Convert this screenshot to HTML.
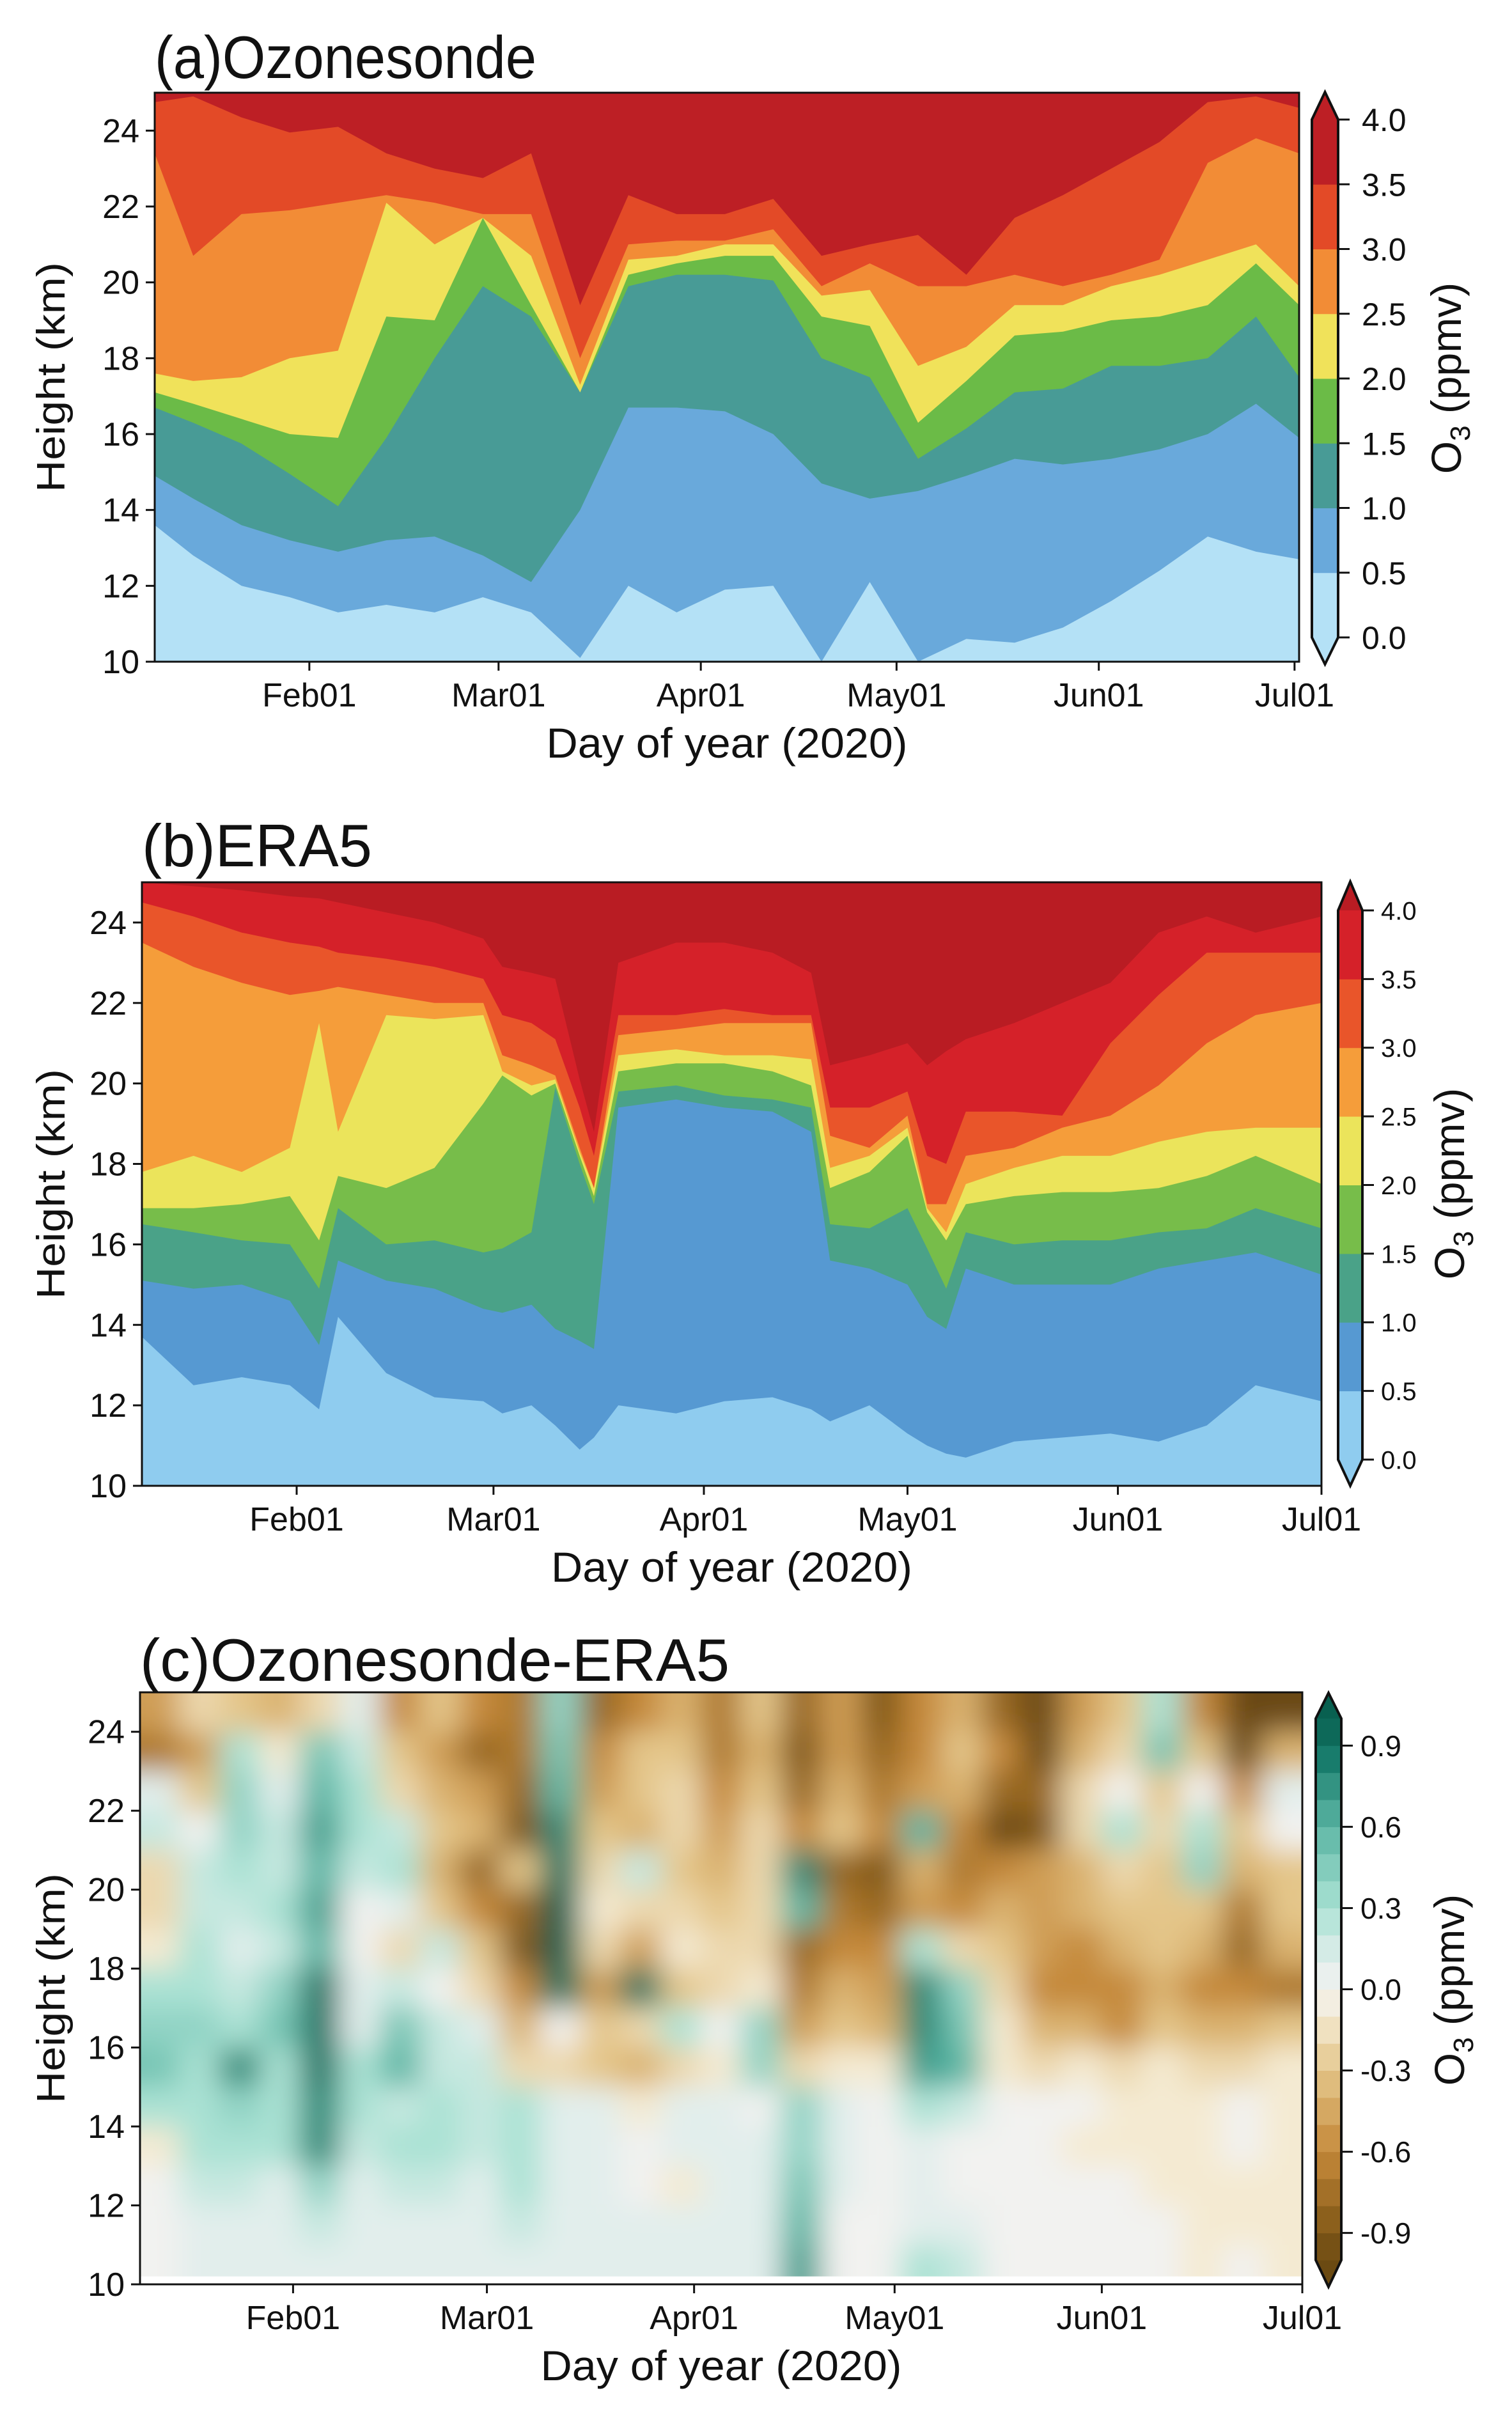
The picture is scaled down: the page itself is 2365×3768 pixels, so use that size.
<!DOCTYPE html>
<html><head><meta charset="utf-8"><style>
html,body{margin:0;padding:0;background:#fff;}
svg{display:block;font-family:"Liberation Sans",Arial,sans-serif;}
</style></head><body>
<svg id="fig" width="2365" height="3768" viewBox="0 0 2365 3768" xmlns="http://www.w3.org/2000/svg">
<defs>
<filter id="blurC" x="-5%" y="-5%" width="110%" height="110%"><feGaussianBlur stdDeviation="24 22"/></filter>
</defs>
</svg>
<script>
// ---------- data ----------
const monthTickDays=[32,61,92,122,153,183];
const monthTickLabels=["Feb01","Mar01","Apr01","May01","Jun01","Jul01"];
const heightTicks=[10,12,14,16,18,20,22,24];
// panel a (ozonesonde) contour boundary heights (km) per day
const aDays=[8.3,14.2,21.6,29,36.4,43.8,51.2,58.6,66,73.5,80.9,88.3,95.7,103.1,110.5,117.9,125.3,132.7,140.1,147.5,154.9,162.3,169.7,177.1,183.7];
const aL05=[13.6,12.8,12.0,11.7,11.3,11.5,11.3,11.7,11.3,10.1,12.0,11.3,11.9,12.0,10.0,12.1,10.0,10.6,10.5,10.9,11.6,12.4,13.3,12.9,12.7];
const aL10=[14.9,14.3,13.6,13.2,12.9,13.2,13.3,12.8,12.1,14.0,16.7,16.7,16.6,16.0,14.7,14.3,14.5,14.9,15.35,15.2,15.35,15.6,16.0,16.8,15.9];
const aL15=[16.7,16.3,15.75,14.95,14.1,15.9,18.0,19.9,19.1,17.1,19.9,20.2,20.2,20.05,18.0,17.5,15.35,16.15,17.1,17.2,17.8,17.8,18.0,19.1,17.5];
const aL20=[17.1,16.8,16.4,16.0,15.9,19.1,19.0,21.7,19.4,17.1,20.2,20.5,20.7,20.7,19.1,18.85,16.3,17.4,18.6,18.7,19.0,19.1,19.4,20.5,19.4];
const aL25=[17.6,17.4,17.5,18.0,18.2,22.1,21.0,21.7,20.7,17.3,20.6,20.7,21.0,21.0,19.65,19.8,17.8,18.3,19.4,19.4,19.9,20.2,20.6,21.0,19.9];
const aL30=[23.4,20.7,21.8,21.9,22.1,22.3,22.1,21.8,21.8,18.0,21.0,21.1,21.1,21.4,19.9,20.5,19.9,19.9,20.2,19.9,20.2,20.6,23.15,23.8,23.4];
const aL35=[24.75,24.9,24.35,23.95,24.1,23.4,23.0,22.75,23.4,19.4,22.3,21.8,21.8,22.2,20.7,21.0,21.25,20.2,21.7,22.3,23.0,23.7,24.75,24.9,24.6];
// panel b (ERA5)
const bDays=[9.2,16.8,23.9,31,35.3,38.1,45.2,52.3,59.5,62.3,66.6,70.1,73.7,75.8,79.4,87.9,95,102.1,107.8,110.6,116.4,122,124.9,127.7,130.6,137.7,144.8,151.9,159,166.1,173.3,183];
const bL05=[13.7,12.5,12.7,12.5,11.9,14.2,12.8,12.2,12.1,11.8,12.0,11.5,10.9,11.2,12.0,11.8,12.1,12.2,11.9,11.6,12.0,11.3,11.0,10.8,10.7,11.1,11.2,11.3,11.1,11.5,12.5,12.1];
const bL10=[15.1,14.9,15.0,14.6,13.5,15.6,15.1,14.9,14.4,14.3,14.5,13.9,13.6,13.4,19.4,19.6,19.4,19.3,18.8,15.6,15.4,15.0,14.2,13.9,15.4,15.0,15.0,15.0,15.4,15.6,15.8,15.25];
const bL15=[16.5,16.3,16.1,16.0,14.9,16.9,16.0,16.1,15.8,15.9,16.3,19.9,18.0,17.0,19.8,19.95,19.7,19.6,19.4,16.5,16.4,16.9,15.9,14.9,16.3,16.0,16.1,16.1,16.3,16.4,16.9,16.4];
const bL20=[16.9,16.9,17.0,17.2,16.1,17.7,17.4,17.9,19.5,20.2,19.7,20.0,18.2,17.2,20.3,20.5,20.5,20.3,19.95,17.4,17.8,18.7,16.8,16.1,17.0,17.2,17.3,17.3,17.4,17.7,18.2,17.5];
const bL25=[17.8,18.2,17.8,18.4,21.5,18.8,21.7,21.6,21.7,20.3,19.95,20.1,18.3,17.4,20.7,20.85,20.7,20.7,20.6,17.9,18.2,18.9,16.9,16.3,17.5,17.9,18.2,18.2,18.55,18.8,18.9,18.9];
const bL30=[23.5,22.9,22.5,22.2,22.3,22.4,22.2,22.0,22.0,20.7,20.45,20.2,18.4,17.4,21.2,21.35,21.5,21.5,21.5,18.7,18.4,19.2,17.0,17.0,18.2,18.4,18.9,19.2,19.95,21.0,21.7,22.0];
const bL35=[24.5,24.15,23.75,23.5,23.4,23.25,23.1,22.9,22.6,21.7,21.5,21.1,19.4,18.2,21.7,21.7,21.85,21.7,21.7,19.4,19.4,19.8,18.2,18.0,19.3,19.3,19.2,21.0,22.2,23.25,23.25,23.25];
const bL40=[25,24.9,24.8,24.65,24.6,24.5,24.25,24.0,23.6,22.9,22.75,22.6,20.1,18.8,23.0,23.5,23.5,23.25,22.75,20.45,20.7,21.0,20.45,20.8,21.1,21.5,22.0,22.5,23.75,24.15,23.75,24.15];
// panel c (difference) grid
const cDays=[12,18,24,30,36,42,48,54,60,66,72,78,84,90,96,102,108,114,120,126,132,138,144,150,156,162,168,174,180];
const cHeights=[24.5,23.5,22.5,21.5,20.5,19.5,18.5,17.5,16.5,15.5,14.5,13.5,12.5,11.5,10.5];
const cRow245=[-0.5,-0.2,-0.3,-0.4,-0.2,0.1,-0.6,-0.3,-0.6,-0.7,0.4,-0.8,-0.6,-0.4,-0.7,-0.3,-0.8,-0.5,-0.9,-0.6,-0.4,-0.8,-1.0,-0.5,-0.3,0.3,-0.6,-1.0,-1.0];
const cRow235=[-0.7,-0.5,0.3,-0.1,0.5,0.2,-0.3,-0.5,-0.8,-0.7,0.5,-0.6,-0.3,-0.3,-0.7,-0.4,-0.9,-0.5,-0.8,-0.6,-0.3,-0.6,-1.0,-0.4,-0.2,0.5,-0.3,-1.0,-0.4];
const cRow225=[0.1,-0.3,0.4,0.1,0.6,0.3,-0.2,-0.4,-0.5,-0.8,0.6,-0.5,-0.3,-0.2,-0.6,-0.3,-0.8,-0.4,-0.7,-0.5,-0.4,-0.8,-0.8,-0.2,0.0,-0.3,0.0,-0.6,0.1];
const cRow215=[0.2,0.0,0.4,0.2,0.7,0.3,0.2,-0.3,-0.4,-0.9,0.8,-0.3,-0.4,-0.2,-0.5,-0.2,-0.6,-0.3,-0.6,0.6,-0.6,-1.0,-0.9,-0.2,0.3,-0.2,0.3,-0.3,0.0];
const cRow205=[-0.2,0.2,0.3,0.2,0.6,0.2,0.3,-0.4,-0.8,-0.3,0.9,-0.2,0.2,-0.3,-0.4,-0.2,0.8,-0.8,-0.9,-0.4,-0.7,-0.6,-0.5,-0.4,-0.2,-0.3,0.4,-0.4,-0.3];
const cRow195=[-0.2,0.2,0.2,0.3,0.7,0.0,0.1,-0.3,-0.6,-0.8,1.0,-0.1,-0.2,-0.2,-0.3,-0.2,0.6,-0.7,-0.8,-0.5,-0.6,-0.4,-0.5,-0.4,-0.3,-0.3,-0.3,-0.7,-0.3];
const cRow185=[-0.1,0.3,0.1,0.2,0.6,0.0,-0.2,0.2,-0.3,-0.9,1.0,-0.2,-0.5,-0.1,-0.2,-0.2,-0.8,-0.6,-0.6,0.3,-0.2,-0.3,-0.5,-0.6,-0.4,-0.3,-0.4,-0.8,-0.4];
const cRow175=[0.3,0.3,0.2,0.4,0.9,0.1,0.2,0.0,-0.2,-0.6,0.9,-0.5,0.9,-0.3,-0.2,-0.1,-0.7,-0.4,-0.5,0.8,0.4,-0.2,-0.6,-0.6,-0.6,-0.4,-0.6,-0.6,-0.7];
const cRow165=[0.4,0.4,0.3,0.5,0.9,0.1,0.5,0.2,0.1,-0.4,0.0,-0.3,-0.2,0.3,0.0,0.4,-0.5,-0.3,-0.4,0.8,0.5,-0.1,-0.4,-0.4,-0.6,-0.3,-0.4,-0.4,-0.3];
const cRow155=[0.5,0.3,0.8,0.3,0.9,0.3,0.6,0.2,0.2,-0.2,-0.2,-0.3,-0.4,-0.2,-0.1,0.4,-0.2,-0.1,-0.1,0.7,0.6,-0.1,-0.2,-0.1,-0.2,-0.1,-0.2,-0.2,-0.1];
const cRow145=[0.3,0.3,0.4,0.3,0.8,0.3,0.2,0.3,0.2,0.3,0.1,0.1,-0.1,0.1,0.1,0.0,0.4,0.1,0.0,0.3,0.2,0.0,0.0,0.0,-0.1,-0.1,-0.1,0.0,-0.1];
const cRow135=[-0.1,0.3,0.3,0.3,0.8,0.2,0.3,0.3,0.2,0.3,0.1,0.1,0.0,0.1,0.1,0.1,0.4,0.1,0.0,0.1,0.0,0.0,0.0,-0.1,-0.1,-0.1,-0.1,0.0,-0.1];
const cRow125=[0.0,0.2,0.2,0.1,0.4,0.1,0.2,0.2,0.1,0.3,0.1,0.1,0.0,-0.1,0.1,0.1,0.5,0.1,0.0,0.1,0.0,0.0,0.0,0.0,0.0,-0.1,-0.1,-0.1,-0.1];
const cRow115=[0.0,0.1,0.1,0.1,0.2,0.1,0.1,0.1,0.1,0.2,0.1,0.1,0.1,0.1,0.1,0.1,0.6,0.0,0.0,0.1,0.1,0.0,0.0,0.0,0.0,0.0,-0.1,-0.1,-0.1];
const cRow105=[0.0,0.1,0.1,0.1,0.1,0.1,0.1,0.1,0.1,0.1,0.1,0.1,0.1,0.1,0.1,0.1,0.7,0.0,0.0,0.3,0.2,0.0,0.0,0.0,0.0,0.0,-0.1,0.0,-0.1];
const cRows=[cRow245,cRow235,cRow225,cRow215,cRow205,cRow195,cRow185,cRow175,cRow165,cRow155,cRow145,cRow135,cRow125,cRow115,cRow105];
const abTickLabels=["0.0","0.5","1.0","1.5","2.0","2.5","3.0","3.5","4.0"];
const cTickValues=[0.9,0.6,0.3,0.0,-0.3,-0.6,-0.9];
const cTickLabels=["0.9","0.6","0.3","0.0","-0.3","-0.6","-0.9"];

// ---------- rendering ----------
const NS="http://www.w3.org/2000/svg";
const svg=document.getElementById('fig');
function mk(tag,attrs,parent){const e=document.createElementNS(NS,tag);for(const k in attrs)e.setAttribute(k,attrs[k]);(parent||svg).appendChild(e);return e;}
function lin(d0,d1,r0,r1){return v=>r0+(v-d0)*(r1-r0)/(d1-d0);}

const aColors=["#b4e1f6","#69a9db","#489b96","#6bbb47","#f0e25a","#f28c36","#e34a27","#bd1f25"];
const bColors=["#8fccef","#5699d2","#4aa288","#77bd4a","#ebe45b","#f59d3a","#e9552a","#d52129","#b91c23"];

function brbg(v){
  const st=[[-1,[107,74,18]],[-0.85,[140,96,28]],[-0.6,[197,137,58]],[-0.3,[228,198,138]],[-0.1,[244,234,210]],[0,[242,242,240]],[0.1,[226,238,236]],[0.3,[170,226,212]],[0.6,[92,182,164]],[0.85,[24,124,108]],[1,[8,96,80]]];
  v=Math.max(-1,Math.min(1,v));
  for(let i=0;i<st.length-1;i++){const a=st[i],b=st[i+1];if(v<=b[0]){const t=(v-a[0])/(b[0]-a[0]);const c=a[1].map((x,j)=>Math.round(x+(b[1][j]-x)*t));return `rgb(${c[0]},${c[1]},${c[2]})`;}}
  return 'rgb(8,96,80)';
}

function axes(p, id){
  const X=lin(p.d0,p.d1,p.x0,p.x1), Y=lin(10,25,p.y1,p.y0);
  const fr=mk('rect',{x:p.x0,y:p.y0,width:p.x1-p.x0,height:p.y1-p.y0,fill:'none',stroke:'#111','stroke-width':3});
  
  
  heightTicks.forEach(h=>{
    const y=Y(h);
    const t=mk('line',{x1:p.x0-14,x2:p.x0,y1:y,y2:y,stroke:'#111','stroke-width':3});
    
    
    const l=mk('text',{x:p.x0-24,y:y+18,'font-size':52,'text-anchor':'end',fill:'#111'});
    l.textContent=h;
    
    
  });
  monthTickDays.forEach((d,i)=>{
    const x=X(d);
    const t=mk('line',{x1:x,x2:x,y1:p.y1,y2:p.y1+14,stroke:'#111','stroke-width':3});
    
    
    const l=mk('text',{x:x,y:p.y1+70,'font-size':52,'text-anchor':'middle',fill:'#111'});
    l.textContent=monthTickLabels[i];
    
    
  });
  const xt=mk('text',{x:(p.x0+p.x1)/2,y:p.y1+150,'font-size':66,'text-anchor':'middle',fill:'#111',textLength:565,lengthAdjust:'spacingAndGlyphs'});
  xt.textContent='Day of year (2020)';
  
  
  const cy=(p.y0+p.y1)/2;
  const yt=mk('text',{x:0,y:0,'font-size':62,'text-anchor':'middle',fill:'#111',textLength:360,lengthAdjust:'spacingAndGlyphs',transform:`translate(101,${cy}) rotate(-90)`});
  yt.textContent='Height (km)';
  
  
  const tt=mk('text',{x:p.x0,y:p.titleY,'font-size':94,fill:'#111',textLength:p.titleW,lengthAdjust:'spacingAndGlyphs'});
  tt.textContent=p.title;
  
  
  return {X,Y};
}

function contourPanel(p,id,days,levels,colors){
  const X=lin(p.d0,p.d1,p.x0,p.x1), Y=lin(10,25,p.y1,p.y0);
  const cp=mk('clipPath',{id:'clip-'+id},svg.querySelector('defs'));
  mk('rect',{x:p.x0,y:p.y0,width:p.x1-p.x0,height:p.y1-p.y0},cp);
  const g=mk('g',{'clip-path':`url(#clip-${id})`});
  
  
  const bg=mk('rect',{x:p.x0,y:p.y0,width:p.x1-p.x0,height:p.y1-p.y0,fill:colors[0]},g);
  
  
  levels.forEach((lv,k)=>{
    let pts=days.map((d,i)=>`${X(d).toFixed(1)},${Y(lv[i]).toFixed(1)}`);
    pts.unshift(`${(p.x0-20)},${Y(lv[0]).toFixed(1)}`);
    pts.push(`${(p.x1+20)},${Y(lv[lv.length-1]).toFixed(1)}`);
    pts.push(`${p.x1+20},${p.y0-20}`,`${p.x0-20},${p.y0-20}`);
    const pg=mk('polygon',{points:pts.join(' '),fill:colors[k+1]},g);
    
    
  });
}

// colors: [bottomArrow, band1..bandN, topArrow]
function colorbar(cb,id,colors,labels,fs){
  const g=mk('g',{});
  
  
  const n=colors.length-2;
  const bh=(cb.y1-cb.y0)/n;
  const mx=(cb.x0+cb.x1)/2;
  mk('polygon',{points:`${cb.x0},${cb.y0+1} ${mx},${cb.top} ${cb.x1},${cb.y0+1}`,fill:colors[colors.length-1]},g);
  mk('polygon',{points:`${cb.x0},${cb.y1-1} ${mx},${cb.bot} ${cb.x1},${cb.y1-1}`,fill:colors[0]},g);
  for(let i=0;i<n;i++){
    mk('rect',{x:cb.x0,y:cb.y1-(i+1)*bh,width:cb.x1-cb.x0,height:bh+0.5,fill:colors[i+1]},g);
  }
  mk('polygon',{points:`${cb.x0},${cb.y0} ${mx},${cb.top} ${cb.x1},${cb.y0} ${cb.x1},${cb.y1} ${mx},${cb.bot} ${cb.x0},${cb.y1}`,fill:'none',stroke:'#111','stroke-width':4},g);
  labels.forEach(l=>{
    const y=cb.y1-(l.v-cb.v0)/(cb.v1-cb.v0)*(cb.y1-cb.y0);
    mk('line',{x1:cb.x1,x2:cb.x1+18,y1:y,y2:y,stroke:'#111','stroke-width':3},g);
    const t=mk('text',{x:cb.lx,y:y+fs*0.36,'font-size':fs,fill:'#111'},g);
    t.textContent=l.t;
    
    
  });
  const cy=(cb.top+cb.bot)/2;
  const tl=mk('text',{x:0,y:0,'font-size':66,'text-anchor':'middle',fill:'#111',transform:`translate(${cb.tx},${cy}) rotate(-90)`},g);
  tl.innerHTML='O<tspan font-size="44" dy="14">3</tspan><tspan dy="-14"> (ppmv)</tspan>';
  
  
}

// Panel a
const pa={x0:242,x1:2032,y0:145,y1:1035,d0:8.3,d1:183.7,title:'(a)Ozonesonde',titleY:122,titleW:597};
contourPanel(pa,'panel-a',aDays,[aL05,aL10,aL15,aL20,aL25,aL30,aL35],aColors);
axes(pa,'panel-a');
colorbar({x0:2052,x1:2093,y0:187,y1:997,top:144,bot:1039,v0:0,v1:4,lx:2130,tx:2285},'panel-a',
  [aColors[0]].concat(aColors).concat([aColors[7]]),
  abTickLabels.map((t,i)=>({v:i*0.5,t})),50);

// Panel b
const pb={x0:222,x1:2067,y0:1380,y1:2324,d0:9.2,d1:183,title:'(b)ERA5',titleY:1355,titleW:360};
contourPanel(pb,'panel-b',bDays,[bL05,bL10,bL15,bL20,bL25,bL30,bL35,bL40],bColors);
axes(pb,'panel-b');
colorbar({x0:2093,x1:2131,y0:1424,y1:2283,top:1379,bot:2324,v0:0,v1:4,lx:2160,tx:2290},'panel-b',
  [bColors[0]].concat(bColors.slice(0,8)).concat([bColors[8]]),
  abTickLabels.map((t,i)=>({v:i*0.5,t})),40);

// Panel c
const pc={x0:219,x1:2037,y0:2647,y1:3573,d0:9.1,d1:183,title:'(c)Ozonesonde-ERA5',titleY:2629,titleW:922};
(function(){
  const X=lin(pc.d0,pc.d1,pc.x0,pc.x1), Y=lin(10,25,pc.y1,pc.y0);
  const cp=mk('clipPath',{id:'clip-c'},svg.querySelector('defs'));
  mk('rect',{x:pc.x0,y:pc.y0,width:pc.x1-pc.x0,height:Y(10.2)-pc.y0},cp);
  const bgw=mk('rect',{x:pc.x0,y:pc.y0,width:pc.x1-pc.x0,height:pc.y1-pc.y0,fill:'#ffffff'});
  
  
  const outer=mk('g',{'clip-path':'url(#clip-c)'});
  
  
  const inner=mk('g',{filter:'url(#blurC)'},outer);
  const dd=cDays[1]-cDays[0];
  cHeights.forEach((h,r)=>{
    cDays.forEach((d,c)=>{
      let xa=X(d-dd/2), xb=X(d+dd/2), ya=Y(h+0.5), yb=Y(h-0.5);
      if(c===0) xa=pc.x0-80;
      if(c===cDays.length-1) xb=pc.x1+80;
      if(r===0) ya=pc.y0-80;
      if(r===cHeights.length-1) yb=pc.y1+80;
      const cell=mk('rect',{x:xa.toFixed(1),y:ya.toFixed(1),width:(xb-xa+1).toFixed(1),height:(yb-ya+1).toFixed(1),fill:brbg(cRows[r][c])},inner);
      
      
    });
  });
})();
axes(pc,'panel-c');
(function(){
  const cols=[];
  for(let i=0;i<20;i++){cols.push(brbg(-0.95+i*0.1));}
  colorbar({x0:2058,x1:2098,y0:2688,y1:3535,top:2648,bot:3577,v0:-1,v1:1,lx:2128,tx:2290},'panel-c',
    [brbg(-1)].concat(cols).concat([brbg(1)]),
    cTickValues.map((v,i)=>({v,t:cTickLabels[i]})),46);
})();
</script>
</body></html>
